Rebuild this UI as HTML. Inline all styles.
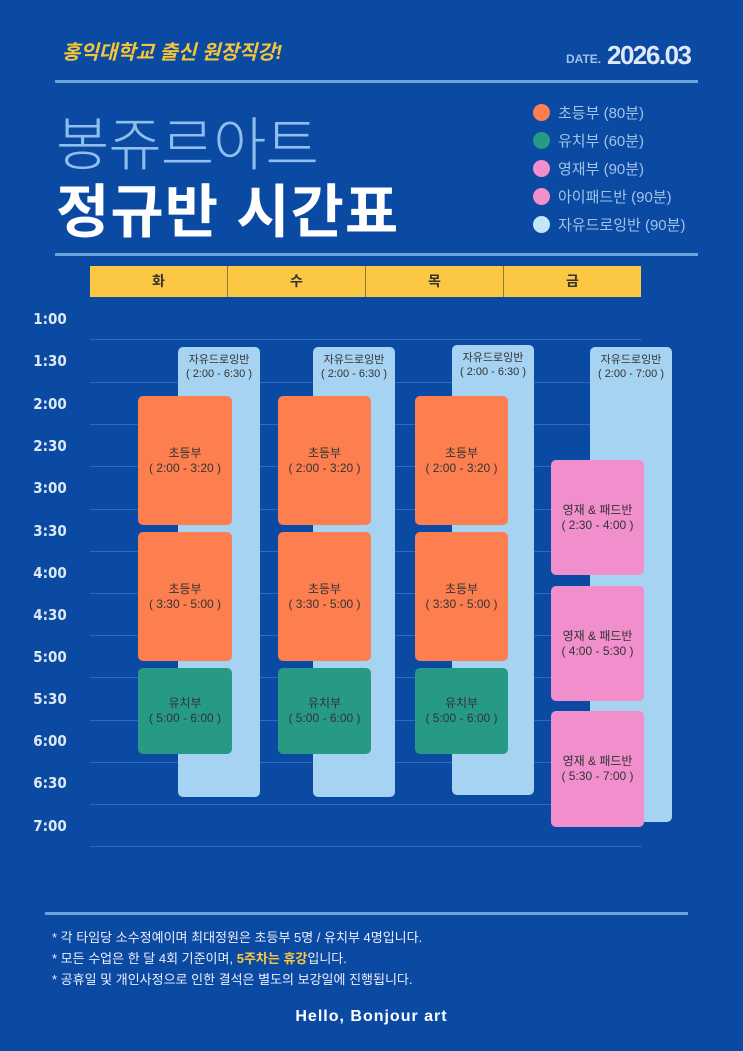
<!DOCTYPE html>
<html><head><meta charset="utf-8"><style>
body{margin:0;width:743px;height:1051px;background:#0b4aa2;position:relative;overflow:hidden;font-family:"Liberation Sans","Noto Sans CJK KR",sans-serif;color:#fff}
.a{position:absolute}
.hl{position:absolute;left:55px;width:643px;height:3px;background:#6aa6dd}
.t{position:absolute;left:30px;width:40px;text-align:center;font-family:"DejaVu Sans Condensed","Liberation Sans",sans-serif;font-weight:bold;font-size:15px;color:#dfe8f6}
.g{position:absolute;left:90px;width:552px;height:1px;background:#2e6bc0}
.b{position:absolute;border-radius:5px;text-align:center;font-size:12px;line-height:15px;color:#333;display:flex;flex-direction:column;justify-content:center}
.f{background:#a7d3f2;justify-content:flex-start;padding-top:6px;box-sizing:border-box;font-size:11px;line-height:14px}
.o{background:#fd7f50}.te{background:#279a86}.p{background:#f08fcb}
.lg{position:absolute;left:533px;font-size:15px;color:#9fc3ea}
.lg i{position:absolute;left:0;top:2px;width:17px;height:17px;border-radius:50%}
.lg span{margin-left:25px}
.n{position:absolute;left:52px;font-size:13px;color:#eef}
</style></head><body>
<div class="a" style="left:62px;top:36px;font-size:20px;color:#f4c43a;font-style:italic;font-weight:bold">홍익대학교 출신 원장직강!</div>
<div class="a" style="left:566px;top:52px;font-size:12px;color:#9fc3ea;font-weight:bold">DATE.</div>
<div class="a" style="left:607px;top:40px;font-size:26px;color:#dfe8f6;font-weight:bold;letter-spacing:-1.5px">2026.03</div>
<div class="hl" style="top:80px"></div>
<div class="a" style="left:56px;top:98px;font-size:58px;color:#8fbdf0;font-weight:300;letter-spacing:-1px">봉쥬르아트</div>
<div class="a" style="left:56px;top:165px;font-size:58px;color:#fff;font-weight:bold;letter-spacing:1px">정규반 시간표</div>
<div class="lg" style="top:102px"><i style="background:#fd7f50"></i><span>초등부 (80분)</span></div>
<div class="lg" style="top:130px"><i style="background:#279a86"></i><span>유치부 (60분)</span></div>
<div class="lg" style="top:158px"><i style="background:#f08fcb"></i><span>영재부 (90분)</span></div>
<div class="lg" style="top:186px"><i style="background:#f08fcb"></i><span>아이패드반 (90분)</span></div>
<div class="lg" style="top:214px"><i style="background:#c4e6fb"></i><span>자유드로잉반 (90분)</span></div>
<div class="hl" style="top:253px"></div>
<div class="a" style="left:90px;top:266px;width:551px;height:31px;background:#fcc843;display:flex;color:#333;font-size:14px;font-weight:bold">
<div style="flex:1;text-align:center;line-height:31px;border-right:1px solid #8a7a40">화</div><div style="flex:1;text-align:center;line-height:31px;border-right:1px solid #8a7a40">수</div><div style="flex:1;text-align:center;line-height:31px;border-right:1px solid #8a7a40">목</div><div style="flex:1;text-align:center;line-height:31px">금</div></div>
<div class="t" style="top:310px">1:00</div><div class="t" style="top:352px">1:30</div><div class="t" style="top:395px">2:00</div><div class="t" style="top:437px">2:30</div><div class="t" style="top:479px">3:00</div><div class="t" style="top:522px">3:30</div><div class="t" style="top:564px">4:00</div><div class="t" style="top:606px">4:30</div><div class="t" style="top:648px">5:00</div><div class="t" style="top:690px">5:30</div><div class="t" style="top:732px">6:00</div><div class="t" style="top:774px">6:30</div><div class="t" style="top:817px">7:00</div>
<div class="g" style="top:339px"></div><div class="g" style="top:382px"></div><div class="g" style="top:424px"></div><div class="g" style="top:466px"></div><div class="g" style="top:509px"></div><div class="g" style="top:551px"></div><div class="g" style="top:593px"></div><div class="g" style="top:635px"></div><div class="g" style="top:677px"></div><div class="g" style="top:720px"></div><div class="g" style="top:762px"></div><div class="g" style="top:804px"></div><div class="g" style="top:846px"></div>
<div class="b f" style="left:178px;top:347px;width:82px;height:450px">자유드로잉반<br>( 2:00 - 6:30 )</div>
<div class="b f" style="left:313px;top:347px;width:82px;height:450px">자유드로잉반<br>( 2:00 - 6:30 )</div>
<div class="b f" style="left:452px;top:345px;width:82px;height:450px">자유드로잉반<br>( 2:00 - 6:30 )</div>
<div class="b f" style="left:590px;top:347px;width:82px;height:475px">자유드로잉반<br>( 2:00 - 7:00 )</div>
<div class="b o" style="left:138px;top:396px;width:94px;height:129px">초등부<br>( 2:00 - 3:20 )</div>
<div class="b o" style="left:138px;top:532px;width:94px;height:129px">초등부<br>( 3:30 - 5:00 )</div>
<div class="b te" style="left:138px;top:668px;width:94px;height:86px">유치부<br>( 5:00 - 6:00 )</div>
<div class="b o" style="left:278px;top:396px;width:93px;height:129px">초등부<br>( 2:00 - 3:20 )</div>
<div class="b o" style="left:278px;top:532px;width:93px;height:129px">초등부<br>( 3:30 - 5:00 )</div>
<div class="b te" style="left:278px;top:668px;width:93px;height:86px">유치부<br>( 5:00 - 6:00 )</div>
<div class="b o" style="left:415px;top:396px;width:93px;height:129px">초등부<br>( 2:00 - 3:20 )</div>
<div class="b o" style="left:415px;top:532px;width:93px;height:129px">초등부<br>( 3:30 - 5:00 )</div>
<div class="b te" style="left:415px;top:668px;width:93px;height:86px">유치부<br>( 5:00 - 6:00 )</div>
<div class="b p" style="left:551px;top:460px;width:93px;height:115px">영재 &amp; 패드반<br>( 2:30 - 4:00 )</div>
<div class="b p" style="left:551px;top:586px;width:93px;height:115px">영재 &amp; 패드반<br>( 4:00 - 5:30 )</div>
<div class="b p" style="left:551px;top:711px;width:93px;height:116px">영재 &amp; 패드반<br>( 5:30 - 7:00 )</div>
<div class="a" style="left:45px;top:912px;width:643px;height:3px;background:#6aa6dd"></div>
<div class="n" style="top:927px">* 각 타임당 소수정예이며 최대정원은 초등부 5명 / 유치부 4명입니다.</div>
<div class="n" style="top:948px">* 모든 수업은 한 달 4회 기준이며, <b style="color:#fcc843">5주차는 휴강</b>입니다.</div>
<div class="n" style="top:969px">* 공휴일 및 개인사정으로 인한 결석은 별도의 보강일에 진행됩니다.</div>
<div class="a" style="left:0;width:743px;top:1008px;text-align:center;font-size:16px;font-weight:bold;letter-spacing:1px">Hello, Bonjour art</div>
</body></html>
